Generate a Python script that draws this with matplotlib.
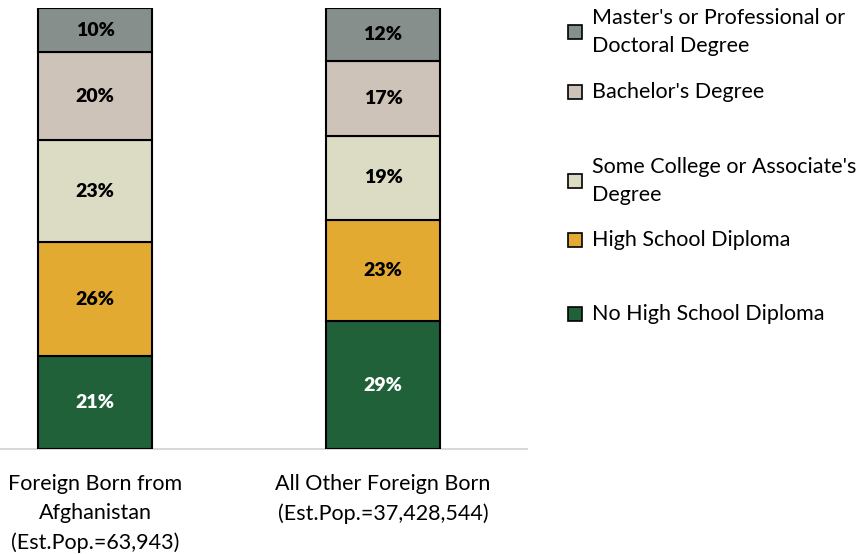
import matplotlib.pyplot as plt
from matplotlib.patches import Rectangle

groups = ["Foreign Born from\nAfghanistan\n(Est.Pop.=63,943)",
          "All Other Foreign Born\n(Est.Pop.=37,428,544)"]
levels = ["No High School Diploma", "High School Diploma",
          "Some College or Associate's\nDegree", "Bachelor's Degree",
          "Master's or Professional or\nDoctoral Degree"]
afghan = [21, 26, 23, 20, 10]
other = [29, 23, 19, 17, 12]
colors = ["#20613a", "#e2aa30", "#dcdcc5", "#cdc3b9", "#868f8b"]
text_colors = ["white", "black", "black", "black", "black"]

plt.rcParams['font.family'] = ['Lato', 'DejaVu Sans']

fig = plt.figure(figsize=(8.64, 5.54), dpi=100)
ax = fig.add_axes([0, 105 / 554, 527 / 864, 441 / 554])

x = [0, 1]
bottoms = [0, 0]
for i, lvl in enumerate(levels):
    vals = [afghan[i], other[i]]
    ax.bar(x, vals, 0.396, bottom=bottoms, color=colors[i],
           edgecolor="black", linewidth=1.5, zorder=3)
    for j in range(2):
        ax.text(x[j], bottoms[j] + vals[j] / 2, f"{vals[j]}%", ha="center",
                va="center", fontsize=14, fontweight="heavy",
                color=text_colors[i], zorder=4)
    bottoms = [bottoms[0] + vals[0], bottoms[1] + vals[1]]

ax.set_xlim(-0.33, 1.5)
ax.set_ylim(0, 100)
for s in ["top", "right", "left"]:
    ax.spines[s].set_visible(False)
ax.spines["bottom"].set_color("#d9d9d9")
ax.spines["bottom"].set_linewidth(1.5)
ax.set_yticks([])
ax.set_xticks(x)
ax.set_xticklabels([])
ax.tick_params(axis="x", length=0)
for j in range(2):
    ax.text(x[j], -5.7, groups[j], ha="center", va="top", fontsize=15.5,
            linespacing=1.55)

# legend, top entry first
leg_y = [32, 92, 181, 240, 314]
for k, i in enumerate(range(len(levels) - 1, -1, -1)):
    y = 554 - leg_y[k]
    fig.patches.append(Rectangle((568 / 864, (y - 7) / 554), 14 / 864, 14 / 554,
                                 transform=fig.transFigure, facecolor=colors[i],
                                 edgecolor="black", linewidth=1.2))
    fig.text(592 / 864, y / 554, levels[i], ha="left", va="center",
             fontsize=15.5, linespacing=1.55)

fig.savefig("out.png", dpi=100)
